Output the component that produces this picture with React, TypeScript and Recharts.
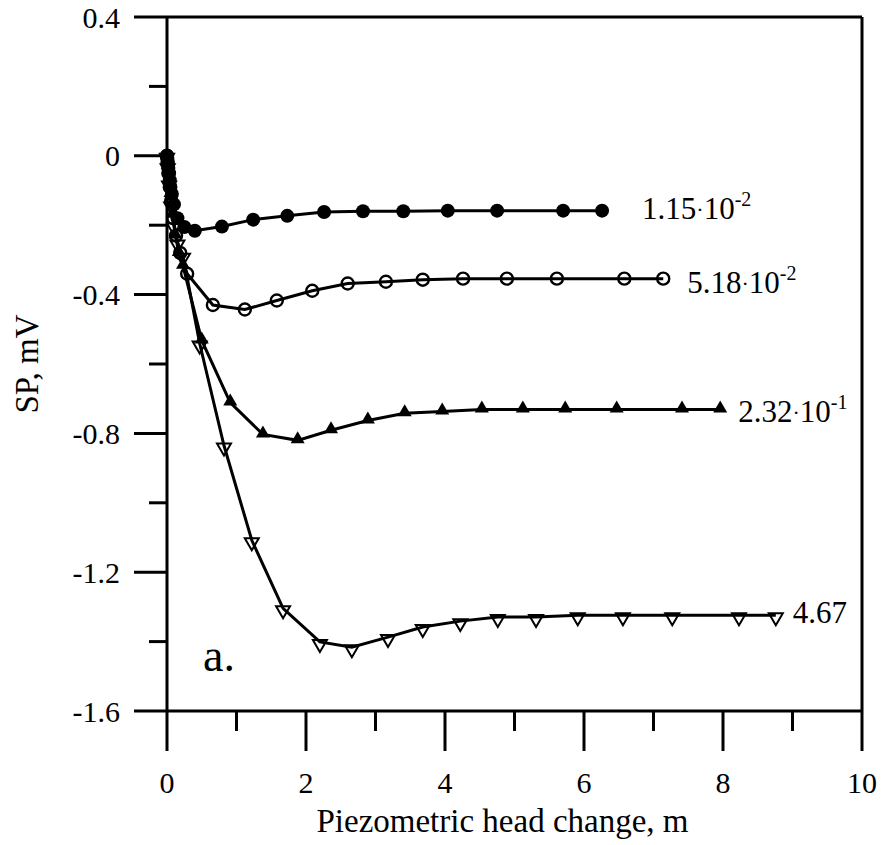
import React from 'react'
import { LineChart, Line, XAxis, YAxis, ReferenceLine } from 'recharts'

const FONT = '"Liberation Serif", "Times New Roman", serif'

// head change (m) and SP (mV) for each permeability curve
const headS1 = [0, 0.005, 0.01, 0.02, 0.03, 0.04, 0.05, 0.07, 0.1, 0.15, 0.25, 0.4, 0.79, 1.24, 1.73, 2.26, 2.82, 3.4, 4.04, 4.75, 5.7, 6.26]
const spS1 = [0, -0.01, -0.02, -0.035, -0.05, -0.07, -0.09, -0.11, -0.14, -0.18, -0.205, -0.216, -0.204, -0.184, -0.173, -0.162, -0.16, -0.16, -0.158, -0.158, -0.158, -0.158]

const headS2 = [0, 0.01, 0.02, 0.04, 0.06, 0.09, 0.13, 0.19, 0.29, 0.66, 1.12, 1.58, 2.09, 2.6, 3.15, 3.68, 4.26, 4.89, 5.61, 6.58, 7.14]
const spS2 = [0, -0.02, -0.05, -0.09, -0.13, -0.18, -0.23, -0.28, -0.34, -0.43, -0.443, -0.417, -0.389, -0.368, -0.363, -0.357, -0.354, -0.354, -0.354, -0.354, -0.354]

const headS3 = [0, 0.01, 0.03, 0.05, 0.08, 0.12, 0.17, 0.23, 0.5, 0.91, 1.38, 1.88, 2.36, 2.89, 3.42, 3.96, 4.53, 5.12, 5.73, 6.47, 7.41, 7.96]
const spS3 = [0, -0.03, -0.07, -0.11, -0.17, -0.23, -0.28, -0.317, -0.532, -0.711, -0.803, -0.82, -0.791, -0.763, -0.742, -0.737, -0.731, -0.731, -0.731, -0.731, -0.731, -0.731]

const headS4 = [0, 0.01, 0.03, 0.06, 0.1, 0.15, 0.23, 0.47, 0.82, 1.22, 1.67, 2.2, 2.66, 3.18, 3.68, 4.22, 4.76, 5.31, 5.91, 6.56, 7.27, 8.23, 8.76]
const spS4 = [0, -0.03, -0.08, -0.14, -0.2, -0.25, -0.288, -0.541, -0.835, -1.108, -1.304, -1.401, -1.416, -1.387, -1.358, -1.341, -1.329, -1.329, -1.324, -1.324, -1.324, -1.324, -1.324]

const curveLabels = [
  { base: '1.15', exp: '-2' },
  { base: '5.18', exp: '-2' },
  { base: '2.32', exp: '-1' },
  { base: '4.67', exp: '' },
]

const xTicks = [0, 1, 2, 3, 4, 5, 6, 7, 8, 9, 10]
const yTicks = [-1.6, -1.4, -1.2, -1, -0.8, -0.6, -0.4, -0.2, 0, 0.2, 0.4]

const zip = (xs: number[], ys: number[]) => xs.map((x, i) => ({ x, y: ys[i] }))

const series = [
  { key: 's1', data: zip(headS1, spS1), marker: 'disc', dx: 40, dy: 8 },
  { key: 's2', data: zip(headS2, spS2), marker: 'ring', dx: 24, dy: 14 },
  { key: 's3', data: zip(headS3, spS3), marker: 'tri', dx: 18, dy: 13 },
  { key: 's4', data: zip(headS4, spS4), marker: 'down', dx: 17, dy: 8 },
]

function Marker({ cx, cy, kind }: any) {
  if (cx == null || cy == null) return null
  if (kind === 'disc') return <circle cx={cx} cy={cy} r={7} fill="#000" />
  if (kind === 'ring') return <circle cx={cx} cy={cy} r={6} fill="none" stroke="#000" strokeWidth={2.4} />
  if (kind === 'tri')
    return <polygon points={`${cx - 7},${cy + 3} ${cx + 7},${cy + 3} ${cx},${cy - 9}`} fill="#000" />
  return (
    <polygon
      points={`${cx - 7},${cy - 2} ${cx + 7},${cy - 2} ${cx},${cy + 10}`}
      fill="none"
      stroke="#000"
      strokeWidth={2}
    />
  )
}

function YTick({ x, y, payload }: any) {
  const v = payload.value
  const major = Math.round(v * 10) % 4 === 0
  return (
    <g>
      <line x1={x - (major ? 33 : 18)} x2={x} y1={y} y2={y} stroke="#000" strokeWidth={3} />
      {major && (
        <text x={x - 47} y={y} textAnchor="end" dominantBaseline="central" fontFamily={FONT} fontSize={30} fill="#000">
          {String(Math.round(v * 10) / 10)}
        </text>
      )}
    </g>
  )
}

function XTick({ x, y, payload }: any) {
  const v = payload.value
  const major = v % 2 === 0
  return (
    <g>
      <line x1={x} x2={x} y1={y} y2={y + (major ? 40 : 20)} stroke="#000" strokeWidth={3} />
      {major && (
        <text x={x} y={y + 82} textAnchor="middle" fontFamily={FONT} fontSize={30} fill="#000">
          {v}
        </text>
      )}
    </g>
  )
}

export default function App() {
  return (
    <div style={{ position: 'absolute', left: 0, top: 0, width: 885, height: 845, background: '#fff' }}>
      <LineChart width={885} height={845} margin={{ top: 17, right: 23, bottom: 0, left: 0 }}>
        <XAxis
          type="number"
          dataKey="x"
          domain={[0, 10]}
          ticks={xTicks}
          interval={0}
          height={134}
          tickSize={0}
          tickMargin={0}
          tickLine={false}
          axisLine={{ stroke: '#000', strokeWidth: 3 }}
          tick={<XTick />}
          label={{
            content: ({ viewBox }: any) => (
              <text
                x={viewBox.x + viewBox.width / 2 - 12}
                y={viewBox.y + 121}
                textAnchor="middle"
                fontFamily={FONT}
                fontSize={33}
                fill="#000"
              >
                Piezometric head change, m
              </text>
            ),
          }}
        />
        <YAxis
          type="number"
          dataKey="y"
          domain={[-1.6, 0.4]}
          ticks={yTicks}
          interval={0}
          width={167}
          tickSize={0}
          tickMargin={0}
          tickLine={false}
          axisLine={{ stroke: '#000', strokeWidth: 3 }}
          tick={<YTick />}
          label={{
            content: ({ viewBox }: any) => {
              const cy = viewBox.y + viewBox.height / 2
              return (
                <text
                  x={38}
                  y={cy}
                  transform={`rotate(-90 38 ${cy})`}
                  textAnchor="middle"
                  fontFamily={FONT}
                  fontSize={33}
                  fill="#000"
                >
                  SP, mV
                </text>
              )
            },
          }}
        />
        <ReferenceLine y={0.4} stroke="#000" strokeWidth={3} />
        <ReferenceLine x={10} stroke="#000" strokeWidth={3} />
        {series.map((s, si) => (
          <Line
            key={s.key}
            data={s.data}
            dataKey="y"
            type="linear"
            stroke="#000"
            strokeWidth={3}
            isAnimationActive={false}
            dot={(p: any) => <Marker key={`${s.key}-${p.index}`} cx={p.cx} cy={p.cy} kind={s.marker} />}
            activeDot={false}
            label={(p: any) =>
              p.index === s.data.length - 1 ? (
                <text key={`${s.key}-lbl`} x={p.x + s.dx} y={p.y + s.dy} fontFamily={FONT} fontSize={31} fill="#000">
                  {curveLabels[si].base}
                  {curveLabels[si].exp && (
                    <>
                      <tspan fontSize={22} dy={-2}>·</tspan>
                      <tspan fontSize={31} dy={2}>10</tspan>
                      <tspan fontSize={20} dy={-13}>{curveLabels[si].exp}</tspan>
                    </>
                  )}
                </text>
              ) : (
                <g key={`${s.key}-lbl-${p.index}`} />
              )
            }
          />
        ))}
      </LineChart>
      <div
        style={{
          position: 'absolute',
          left: 203,
          top: 628,
          fontFamily: FONT,
          fontSize: 46,
          lineHeight: '56px',
          color: '#000',
        }}
      >
        a.
      </div>
    </div>
  )
}
